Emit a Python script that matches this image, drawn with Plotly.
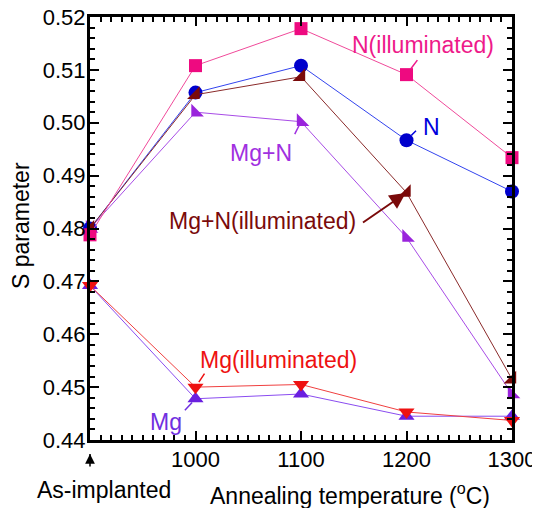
import plotly.graph_objects as go

# Data
temps = [900, 1000, 1100, 1200, 1300]  # 900 = "As-implanted"
s_N_ill = [0.4788, 0.5108, 0.5178, 0.5091, 0.4934]
s_N = [0.4800, 0.5057, 0.5108, 0.4967, 0.4870]
s_MgN = [0.4800, 0.5020, 0.5002, 0.4783, 0.4487]
s_MgN_ill = [0.4800, 0.5053, 0.5087, 0.4868, 0.4515]
s_Mg = [0.4692, 0.4478, 0.4487, 0.4445, 0.4445]
s_Mg_ill = [0.4692, 0.4500, 0.4505, 0.4453, 0.4437]

xtick_vals = [1000, 1100, 1200, 1300]
xtick_text = ["1000", "1100", "1200", "1300"]
xmed_vals = [950, 1050, 1150, 1250]
ytick_vals = [0.44, 0.45, 0.46, 0.47, 0.48, 0.49, 0.50, 0.51, 0.52]
ytick_text = ["0.44", "0.45", "0.46", "0.47", "0.48", "0.49", "0.50", "0.51", "0.52"]

FONT = "Arial, Liberation Sans, Helvetica, sans-serif"
FS_TICK = 22
FS = 23

series = [
    # name, values, marker symbol, marker colour, line colour, size
    ("Mg", s_Mg, "triangle-up", "#6a1fe0", "#8a4cf0", 14),
    ("Mg(illuminated)", s_Mg_ill, "triangle-down", "#ee1111", "#f04040", 14),
    ("Mg+N", s_MgN, "triangle-sw", "#9a24dc", "#a84ce6", 14),
    ("N", s_N, "circle", "#0000cc", "#3344ee", 14),
    ("Mg+N(illuminated)", s_MgN_ill, "triangle-se", "#7a0a0a", "#8a2a2a", 14),
    ("N(illuminated)", s_N_ill, "square", "#ee0a80", "#f04a9a", 13),
]

fig = go.Figure()
for name, vals, sym, mc, lc, sz in series:
    fig.add_trace(go.Scatter(
        x=temps, y=vals, mode="lines+markers", name=name,
        line=dict(color=lc, width=1),
        marker=dict(symbol=sym, size=sz, color=mc, line=dict(width=0)),
        cliponaxis=False, showlegend=False,
    ))

# labels with short leader lines / arrows: (text, colour, x, y, ax, ay, standoff, head, text_x_px, text_y_px)
labels = [
    ("N(illuminated)", "#ee1a8a", 1200, s_N_ill[3], 12, -16, 7, 0, 423, 45),
    ("N", "#0000dd", 1200, s_N[3], 11, -11, 7, 0, 431, 127),
    ("Mg+N", "#a030e0", 1100, s_MgN[2], -7, 14, 4, 0, 261, 153),
    ("Mg+N(illuminated)", "#7a0a0a", 1200, s_MgN_ill[3], -45, 31, 1, 2, 262, 221),
    ("Mg(illuminated)", "#ee1111", 1000, s_Mg_ill[1], 10, -15, 6, 0, 278, 360),
    ("Mg", "#7030e0", 1000, s_Mg[1], -12, 13, 5, 0, 166, 422),
]

# page has an 8px body margin: figure sits at (8, 8) in the window
OFF = 8
W, H = 540 - OFF, 508 - OFF
L, T = 90 - OFF, 17 - OFF
R = W - L - 422
B = H - T - 423
pw, ph = W - L - R, H - T - B


def px2paper(xs, ys):
    xp, yp = xs - OFF, ys - OFF
    return (xp - L) / pw, (H - B - yp) / ph


for text, col, x, y, ax, ay, so, head, tx, ty in labels:
    fig.add_annotation(
        x=x, y=y, xref="x", yref="y", ax=ax, ay=ay, text="",
        showarrow=True, arrowcolor=col, arrowwidth=2 if head else 1.5,
        arrowhead=head, arrowsize=1.6 if head else 1, standoff=so,
    )
    px, py = px2paper(tx, ty)
    fig.add_annotation(
        x=px, y=py, xref="paper", yref="paper", text=text, showarrow=False,
        font=dict(family=FONT, size=FS, color=col), xanchor="center", yanchor="middle",
    )

# As-implanted arrow (shaft + head) and label
ytip = px2paper(0, 454)[1]
fig.add_annotation(x=900, y=ytip, xref="x", yref="paper", ax=0, ay=14,
                   text="", showarrow=True, arrowhead=0, arrowwidth=1.5,
                   arrowcolor="black")
fig.add_annotation(x=900, y=ytip, xref="x", yref="paper", ax=0, ay=9,
                   text="", showarrow=True, arrowhead=2, arrowsize=1.3, arrowwidth=1.5,
                   arrowcolor="black")
px, py = px2paper(104, 490)
fig.add_annotation(x=px, y=py, xref="paper", yref="paper", text="As-implanted",
                   xanchor="center", yanchor="middle",
                   showarrow=False, font=dict(family=FONT, size=FS, color="black"))
px, py = px2paper(350, 494)
fig.add_annotation(x=px, y=py, xref="paper", yref="paper",
                   text="Annealing temperature (<sup>o</sup>C)",
                   xanchor="center", yanchor="middle",
                   showarrow=False, font=dict(family=FONT, size=FS, color="black"))
px, py = px2paper(21, 226)
fig.add_annotation(x=px, y=py, xref="paper", yref="paper", text="S parameter",
                   textangle=-90, showarrow=False, xanchor="center", yanchor="middle",
                   font=dict(family=FONT, size=FS, color="black"))

fig.update_layout(
    template="none",
    width=W, height=H, margin=dict(l=L, r=R, t=T, b=B, autoexpand=False),
    plot_bgcolor="white", paper_bgcolor="white",
    font=dict(family=FONT, size=FS_TICK, color="black"),
    xaxis=dict(range=[900, 1300], tickvals=xtick_vals, ticktext=xtick_text,
               automargin=False, ticklabelstandoff=-2, ticklabeloverflow="allow",
               ticks="inside", ticklen=9, tickwidth=2, tickcolor="black",
               showline=True, linewidth=3, linecolor="black", mirror="ticks",
               showgrid=False, zeroline=False,
               minor=dict(ticks="inside", ticklen=5, tickwidth=2, dtick=10, tick0=900,
                          tickcolor="black", showgrid=False)),
    xaxis2=dict(range=[900, 1300], overlaying="x", anchor="y", side="bottom",
                automargin=False,
                tickvals=xmed_vals, showticklabels=False, ticks="inside", ticklen=7,
                tickwidth=2, tickcolor="black", mirror="ticks", showline=False,
                showgrid=False, zeroline=False),
    yaxis=dict(range=[0.44, 0.52], tickvals=ytick_vals, ticktext=ytick_text,
               automargin=False, ticklabelstandoff=-3, ticklabeloverflow="allow",
               ticks="inside", ticklen=9, tickwidth=2, tickcolor="black",
               showline=True, linewidth=3, linecolor="black", mirror="ticks",
               showgrid=False, zeroline=False,
               minor=dict(ticks="inside", ticklen=5, tickwidth=2, dtick=0.002, tick0=0.44,
                          tickcolor="black", showgrid=False)),
)

fig.write_html("out.html")
